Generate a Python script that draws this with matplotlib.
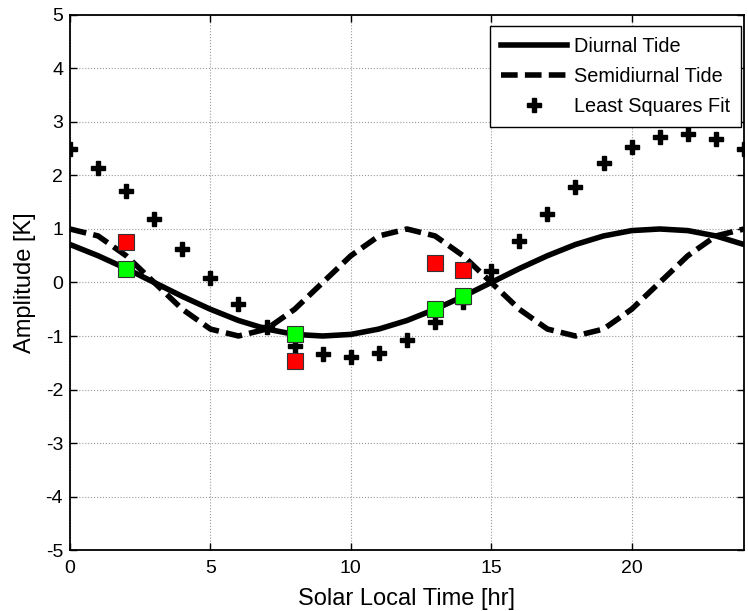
import numpy as np
import matplotlib
matplotlib.use("Agg")
import matplotlib.pyplot as plt

plt.rcParams['font.family'] = ['Liberation Sans', 'DejaVu Sans']
plt.rcParams['axes.unicode_minus'] = False

# hourly solar local time
hours = list(range(25))

diurnal = [0.71, 0.50, 0.26, 0.00, -0.26, -0.50, -0.71, -0.87, -0.97, -1.00,
           -0.97, -0.87, -0.71, -0.50, -0.26, 0.00, 0.26, 0.50, 0.71, 0.87,
           0.97, 1.00, 0.97, 0.87, 0.71]

semidiurnal = [1.00, 0.87, 0.50, 0.00, -0.50, -0.87, -1.00, -0.87, -0.50, 0.00,
               0.50, 0.87, 1.00, 0.87, 0.50, 0.00, -0.50, -0.87, -1.00, -0.87,
               -0.50, 0.00, 0.50, 0.87, 1.00]

lsq_fit = [2.49, 2.14, 1.71, 1.18, 0.62, 0.09, -0.40, -0.83, -1.18, -1.34,
           -1.39, -1.32, -1.07, -0.73, -0.36, 0.21, 0.77, 1.28, 1.78, 2.23,
           2.54, 2.71, 2.77, 2.69, 2.49]

# sample hours
sample_hours = [2, 8, 13, 14]
red_vals = [0.76, -1.47, 0.37, 0.24]
green_vals = [0.26, -0.97, -0.50, -0.26]

fig = plt.figure(figsize=(7.48, 6.11), dpi=100)
ax = fig.add_axes([0.0936, 0.0998, 0.901, 0.8757])

ax.plot(hours, diurnal, color='black', lw=4.0, label='Diurnal Tide')
ax.plot(hours, semidiurnal, color='black', lw=4.0, dashes=(3.0, 1.3), label='Semidiurnal Tide')
ax.plot(hours, lsq_fit, linestyle='none', marker='P', ms=10, color='black', label='Least Squares Fit')
ax.plot(sample_hours, red_vals, linestyle='none', marker='s', ms=11,
        markerfacecolor='#ff0000', markeredgecolor='#333333', mew=0.8)
ax.plot(sample_hours, green_vals, linestyle='none', marker='s', ms=11,
        markerfacecolor='#00ff00', markeredgecolor='#333333', mew=0.8)

ax.set_xlim(0, 24)
ax.set_ylim(-5, 5)
ax.set_xticks([0, 5, 10, 15, 20])
ax.set_yticks(range(-5, 6))
ax.grid(True, linestyle=':', color='#999999', lw=0.8)
ax.tick_params(direction='in', top=True, right=True, length=5, width=1, labelsize=14)
ax.tick_params(axis='x', pad=7)
ax.tick_params(axis='y', pad=5)
for s in ax.spines.values():
    s.set_linewidth(1.3)

ax.set_xlabel('Solar Local Time [hr]', fontsize=17, labelpad=8)
ax.set_ylabel('Amplitude [K]', fontsize=17, labelpad=7)

leg = ax.legend(loc='upper right', bbox_to_anchor=(0.9955, 0.9794), fontsize=14.3,
                fancybox=False, framealpha=1, edgecolor='black', handlelength=3.3,
                borderaxespad=0, borderpad=0.55, handletextpad=0.35, labelspacing=0.55)
leg.get_frame().set_linewidth(1.0)

fig.savefig('out.png', dpi=100)
